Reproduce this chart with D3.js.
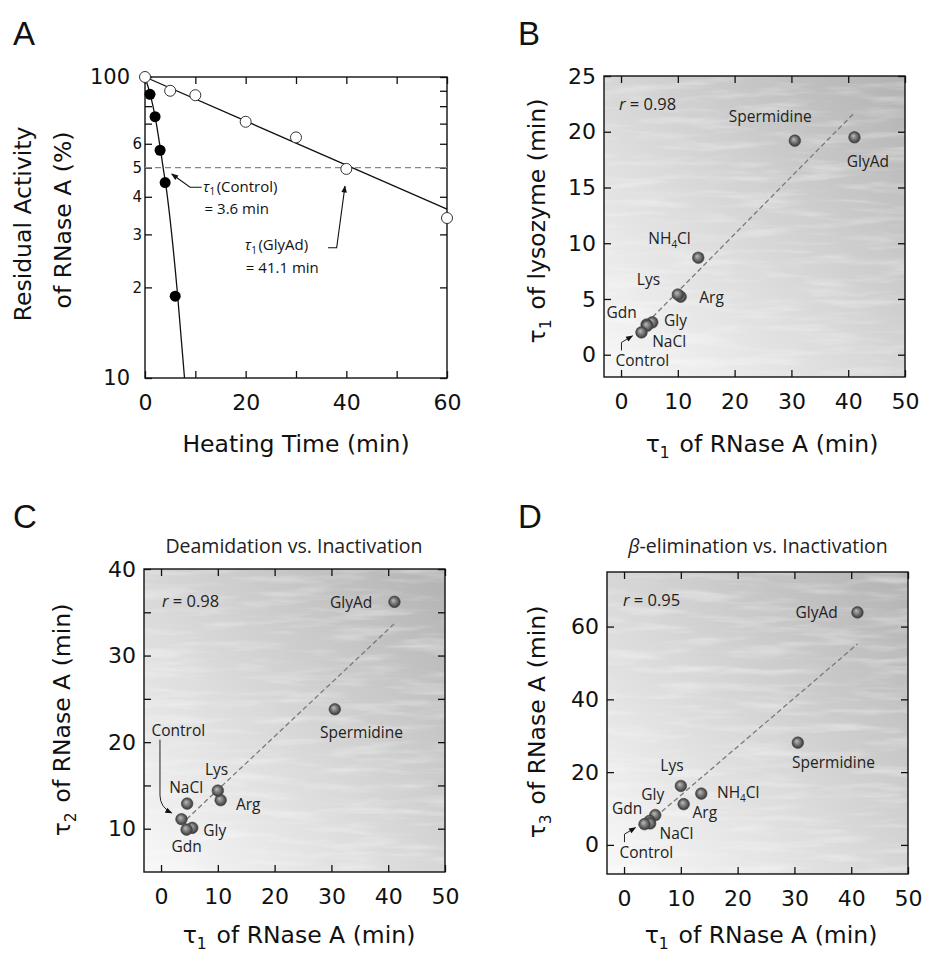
<!DOCTYPE html>
<html>
<head>
<meta charset="utf-8">
<script src="https://cdn.jsdelivr.net/npm/d3@7"></script>
<style>
  body { margin: 0; background: #fff; }
  svg { display: block; }
</style>
</head>
<body>
<script>
// ---- panel A: residual activity vs heating time ----
const heatTime = [0, 5, 10, 20, 30, 40, 60];
const glyAdActivity = [100, 90, 87, 71, 63, 49.5, 34];
const ctrlTime = [1, 2, 3, 4, 6];
const ctrlActivity = [87.6, 73.8, 57.1, 44.6, 18.7];
const glyAdFit = [[0, 100], [60, 36.4]];
const ctrlFit = [[0, 100], [1, 88], [2, 74], [3, 58.5], [3.6, 50], [4.2, 43], [6.4, 19.5], [7.85, 10]];
const tau1Control = 3.6;
const tau1GlyAd = 41.1;
const aXTicks = [0, 10, 20, 30, 40, 50, 60];
const aXLabels = ['0', '', '20', '', '40', '', '60'];
const aYTicks = [10, 20, 30, 40, 50, 60, 70, 80, 90, 100];
const aYLabels = ['10', '2', '3', '4', '5', '6', '', '', '', '100'];

// ---- panels B-D: time constants per additive ----
const conditions = ['Control', 'NaCl', 'Gdn', 'Gly', 'Lys', 'Arg', 'NH4Cl', 'Spermidine', 'GlyAd'];
const rnaseTau1 = [3.6, 4.6, 4.5, 5.5, 10.0, 10.5, 13.6, 30.6, 41.1];
const lysoTau1 = [2.0, 2.6, 2.7, 2.9, 5.4, 5.2, 8.7, 19.2, 19.5];
const rnaseTau2 = [11.1, 12.9, 9.9, 10.1, 14.4, 13.3, null, 23.8, 36.2];
const rnaseTau3 = [5.7, 5.9, 6.6, 8.2, 16.2, 11.2, 14.1, 28.1, 63.9];
const fitB = [[3.6, 2.36], [41.1, 21.7]];
const fitC = [[4.5, 11.1], [41.1, 33.7]];
const fitD = [[4.5, 6.3], [41.1, 55.2]];
const corrR = ['0.98', '0.98', '0.95'];
const scatXTicks = [0, 10, 20, 30, 40, 50];

const W = 925, H = 955;
const tickFont = 'DejaVu Sans, sans-serif';
const labFont = '"Open Sans", sans-serif';

const svg = d3.select('body').append('svg')
    .attr('width', W).attr('height', H)
    .attr('font-family', tickFont);

const defs = svg.append('defs');
let bg = defs.append('linearGradient').attr('id', 'bg')
    .attr('x1', 0).attr('y1', 1).attr('x2', 1).attr('y2', 0);
bg.append('stop').attr('offset', '0%').attr('stop-color', '#f8f8f8');
bg.append('stop').attr('offset', '45%').attr('stop-color', '#dadada');
bg.append('stop').attr('offset', '100%').attr('stop-color', '#b2b2b2');

let ball = defs.append('radialGradient').attr('id', 'ball')
    .attr('cx', '50%').attr('cy', '50%').attr('r', '50%')
    .attr('fx', '38%').attr('fy', '35%');
ball.append('stop').attr('offset', '0%').attr('stop-color', '#bdbdbd');
ball.append('stop').attr('offset', '55%').attr('stop-color', '#747474');
ball.append('stop').attr('offset', '100%').attr('stop-color', '#363636');

// streaky paper texture on the shaded plots (kept faint)
let tex = defs.append('filter').attr('id', 'tex')
    .attr('x', 0).attr('y', 0).attr('width', 1).attr('height', 1);
tex.append('feTurbulence').attr('type', 'fractalNoise')
    .attr('baseFrequency', '0.015 0.12').attr('numOctaves', 3).attr('seed', 7);
tex.append('feColorMatrix').attr('type', 'matrix')
    .attr('values', '0 0 0 0 1  0 0 0 0 1  0 0 0 0 1  0.9 0 0 0 -0.42');
tex.append('feComposite').attr('in2', 'SourceGraphic').attr('operator', 'in');

defs.append('marker').attr('id', 'arr')
    .attr('viewBox', '0 0 10 10').attr('refX', 9).attr('refY', 5)
    .attr('markerWidth', 8).attr('markerHeight', 7)
    .attr('markerUnits', 'userSpaceOnUse').attr('orient', 'auto')
    .append('path').attr('d', 'M0,1 L10,5 L0,9 Z').attr('fill', '#111');

// frame + inward ticks on all four sides
let axes = function(g, b, x, y, o) {
    let style = function(sel) {
        sel.select('.domain').remove();
        sel.selectAll('.tick line').attr('stroke', '#111').attr('stroke-width', 1.3);
        sel.selectAll('.tick text').attr('fill', '#111');
        sel.attr('font-size', 22).attr('font-family', tickFont);
    };
    g.append('g').attr('transform', 'translate(0,' + b.y1 + ')')
        .call(d3.axisBottom(x).tickValues(o.xTicks).tickSize(-7).tickPadding(16)
            .tickFormat((d, i) => o.xLabels ? o.xLabels[i] : d))
        .call(style);
    g.append('g').attr('transform', 'translate(0,' + b.y0 + ')')
        .call(d3.axisTop(x).tickValues(o.xTicks).tickSize(-7).tickFormat(''))
        .call(style);
    let la = g.append('g').attr('transform', 'translate(' + b.x0 + ',0)')
        .call(d3.axisLeft(y).tickValues(o.yTicks).tickSize(-7).tickPadding(8)
            .tickFormat((d, i) => o.yLabels ? o.yLabels[i] : d))
        .call(style);
    g.append('g').attr('transform', 'translate(' + b.x1 + ',0)')
        .call(d3.axisRight(y).tickValues(o.yTicks).tickSize(-7).tickFormat(''))
        .call(style);
    g.append('rect')
        .attr('x', b.x0).attr('y', b.y0)
        .attr('width', b.x1 - b.x0).attr('height', b.y1 - b.y0)
        .attr('fill', 'none').attr('stroke', '#111').attr('stroke-width', 1.4);
    return la;
};

// text with a lowered index, e.g. tau_1
let subText = function(t, parts, size) {
    parts.forEach(function(p) {
        if (p.sub) {
            t.append('tspan').text(p.sub).attr('font-size', size * 0.66).attr('dy', size * 0.24);
            t.append('tspan').text('\u200a').attr('dy', -size * 0.24);
        } else {
            let s = t.append('tspan').text(p.t);
            if (p.it) s.attr('font-style', 'italic');
        }
    });
    return t;
};

let letter = function(ch, x, y) {
    svg.append('text').attr('x', x).attr('y', y).text(ch)
        .attr('font-family', 'Liberation Sans, sans-serif').attr('font-size', 33).attr('fill', '#111');
};

// ================= A =================
const bA = { x0: 145, x1: 447, y0: 77, y1: 378 };
const xA = d3.scaleLinear().domain([0, 60]).range([bA.x0, bA.x1]);
const yA = d3.scaleLog().domain([10, 100]).range([bA.y1, bA.y0]);
let gA = svg.append('g');
gA.append('rect').attr('x', bA.x0).attr('y', bA.y0)
    .attr('width', bA.x1 - bA.x0).attr('height', bA.y1 - bA.y0).attr('fill', '#fff');
let yAx = axes(gA, bA, xA, yA, { xTicks: aXTicks, xLabels: aXLabels, yTicks: aYTicks, yLabels: aYLabels });
yAx.selectAll('.tick text')
    .attr('font-size', d => (d === 10 || d === 100) ? 21 : 15)
    .attr('x', d => (d === 10 || d === 100) ? -15 : -3);

gA.append('line')
    .attr('x1', xA(0)).attr('x2', xA(60)).attr('y1', yA(50)).attr('y2', yA(50))
    .attr('stroke', '#888').attr('stroke-width', 1.2).attr('stroke-dasharray', '6,4');

let lineA = d3.line().x(d => xA(d[0])).y(d => yA(d[1]));
gA.append('path').attr('d', lineA(glyAdFit))
    .attr('fill', 'none').attr('stroke', '#111').attr('stroke-width', 1.3);
gA.append('path').attr('d', lineA.curve(d3.curveMonotoneX)(ctrlFit))
    .attr('fill', 'none').attr('stroke', '#111').attr('stroke-width', 1.3);

gA.selectAll('.open').data(heatTime).join('circle')
    .attr('cx', d => xA(d)).attr('cy', (d, i) => yA(glyAdActivity[i])).attr('r', 5.5)
    .attr('fill', '#fff').attr('stroke', '#333').attr('stroke-width', 1);
gA.selectAll('.fill').data(ctrlTime).join('circle')
    .attr('cx', d => xA(d)).attr('cy', (d, i) => yA(ctrlActivity[i])).attr('r', 5.5)
    .attr('fill', '#000');

// tau annotations
const annSize = 15;
let cx0 = xA(tau1Control), cy0 = yA(50);
gA.append('path')
    .attr('d', d3.line()([[cx0 + 38.6, cy0 + 19.7], [cx0 + 26.9, cy0 + 19.7], [cx0 + 8.6, cy0 + 6.4]]))
    .attr('fill', 'none').attr('stroke', '#111').attr('stroke-width', 1.1).attr('marker-end', 'url(#arr)');
subText(gA.append('text').attr('x', cx0 + 40).attr('y', cy0 + 24)
    .attr('font-family', labFont).attr('font-size', annSize).attr('fill', '#111'),
    [{ t: '\u03c4', it: true }, { sub: '1' }, { t: '(Control)' }], annSize);
gA.append('text').attr('x', cx0 + 41.5).attr('y', cy0 + 46.5).text('= 3.6 min')
    .attr('font-family', labFont).attr('font-size', annSize).attr('fill', '#111');

let gx0 = xA(tau1GlyAd), gy0 = yA(50);
gA.append('path')
    .attr('d', d3.line()([[gx0 - 23.9, gy0 + 80.1], [gx0 - 15.2, gy0 + 80.1], [gx0 - 6.9, gy0 + 18.5]]))
    .attr('fill', 'none').attr('stroke', '#111').attr('stroke-width', 1.1).attr('marker-end', 'url(#arr)');
subText(gA.append('text').attr('x', gx0 - 107).attr('y', gy0 + 82.5)
    .attr('font-family', labFont).attr('font-size', annSize).attr('fill', '#111'),
    [{ t: '\u03c4', it: true }, { sub: '1' }, { t: '(GlyAd)' }], annSize);
gA.append('text').attr('x', gx0 - 106).attr('y', gy0 + 105).text('= 41.1 min')
    .attr('font-family', labFont).attr('font-size', annSize).attr('fill', '#111');

gA.append('text').attr('x', 296).attr('y', 452).attr('text-anchor', 'middle')
    .attr('font-size', 23.5).attr('fill', '#111').text('Heating Time (min)');
gA.append('text').attr('transform', 'translate(31,224) rotate(-90)').attr('text-anchor', 'middle')
    .attr('font-size', 23.5).attr('fill', '#111').text('Residual Activity');
gA.append('text').attr('transform', 'translate(71,220) rotate(-90)').attr('text-anchor', 'middle')
    .attr('font-size', 23.5).attr('fill', '#111').text('of RNase A (%)');
letter('A', 13, 45);

// ================= B, C, D =================
let scatter = function(cfg) {
    let b = cfg.box;
    let x = d3.scaleLinear().domain([-3, 50]).range([b.x0, b.x1]);
    let y = d3.scaleLinear().domain(cfg.yDomain).range([b.y1, b.y0]);
    let g = svg.append('g');
    g.append('rect').attr('x', b.x0).attr('y', b.y0)
        .attr('width', b.x1 - b.x0).attr('height', b.y1 - b.y0).attr('fill', 'url(#bg)');
    g.append('rect').attr('x', b.x0).attr('y', b.y0)
        .attr('width', b.x1 - b.x0).attr('height', b.y1 - b.y0)
        .attr('fill', '#000').attr('filter', 'url(#tex)');
    axes(g, b, x, y, { xTicks: scatXTicks, yTicks: cfg.yTicks, yLabels: cfg.yLabels });

    g.append('path').attr('d', d3.line().x(d => x(d[0])).y(d => y(d[1]))(cfg.fit))
        .attr('fill', 'none').attr('stroke', '#7a7a7a').attr('stroke-width', 1.3)
        .attr('stroke-dasharray', '5,3');

    let pts = conditions.map((c, i) => ({ c: c, x: rnaseTau1[i], y: cfg.yVals[i] }))
        .filter(d => d.y != null);
    let px = d => x(d.x), py = d => y(d.y);

    // arrow from the Control label to its point
    let ctl = pts[0];
    g.append('path').attr('transform', 'translate(' + px(ctl) + ',' + py(ctl) + ')')
        .attr('d', cfg.ctrlArrow)
        .attr('fill', 'none').attr('stroke', '#222').attr('stroke-width', 1).attr('marker-end', 'url(#arr)');

    g.selectAll('.ball').data(pts.slice().reverse()).join('circle')
        .attr('cx', px).attr('cy', py).attr('r', 5.8)
        .attr('fill', 'url(#ball)').attr('stroke', '#444').attr('stroke-width', 0.6);

    pts.forEach(function(d) {
        let o = cfg.labels[d.c];
        if (!o) return;
        let t = g.append('text').attr('x', px(d) + o[0]).attr('y', py(d) + o[1])
            .attr('font-family', labFont).attr('font-size', 15.5).attr('fill', '#222');
        if (d.c === 'NH4Cl') {
            t.append('tspan').text('NH');
            t.append('tspan').text('4').attr('font-size', 10).attr('dy', 4);
            t.append('tspan').text('Cl').attr('dy', -4);
        } else {
            t.text(d.c);
        }
    });

    let rt = g.append('text').attr('x', cfg.rPos[0]).attr('y', cfg.rPos[1])
        .attr('font-family', labFont).attr('font-size', 16.5).attr('fill', '#222');
    rt.append('tspan').text('r').attr('font-style', 'italic');
    rt.append('tspan').text(' = ' + cfg.r);

    if (cfg.title) {
        let tt = g.append('text').attr('x', cfg.title.x).attr('y', cfg.title.y)
            .attr('text-anchor', 'middle').attr('font-family', labFont)
            .attr('font-size', 19.5).attr('fill', '#222');
        cfg.title.parts.forEach(function(p) {
            let s = tt.append('tspan').text(p.t);
            if (p.it) s.attr('font-style', 'italic');
        });
    }

    subText(g.append('text').attr('x', cfg.xLab[0]).attr('y', cfg.xLab[1])
        .attr('text-anchor', 'middle').attr('font-size', 23.5).attr('fill', '#111'),
        [{ t: '\u03c4' }, { sub: '1' }, { t: ' of RNase A (min)' }], 23.5);
    subText(g.append('text')
        .attr('transform', 'translate(' + cfg.yLab[0] + ',' + cfg.yLab[1] + ') rotate(-90)')
        .attr('text-anchor', 'middle').attr('font-size', 23.5).attr('fill', '#111'),
        [{ t: '\u03c4' }, { sub: cfg.yLab[2] }, { t: cfg.yLab[3] }], 23.5);
    letter(cfg.letter[0], cfg.letter[1], cfg.letter[2]);
};

const smallArrow = 'M-20,18 L-20,10 L-9,3.5';

scatter({
    box: { x0: 604, x1: 905, y0: 76, y1: 377 },
    yDomain: [-2, 25], yTicks: [0, 5, 10, 15, 20, 25],
    yVals: lysoTau1, fit: fitB, r: corrR[0], rPos: [619, 110],
    ctrlArrow: smallArrow,
    labels: {
        Control: [-26, 33.3], NaCl: [5, 21.5], Gdn: [-40, -7], Gly: [11.7, 3.5],
        Lys: [-41, -9.2], Arg: [18.6, 6.6], NH4Cl: [-50, -13.7],
        Spermidine: [-66, -19], GlyAd: [-7.7, 29.4]
    },
    xLab: [762, 452], yLab: [545, 221, '1', ' of lysozyme (min)'],
    letter: ['B', 518, 45]
});

scatter({
    box: { x0: 144, x1: 445, y0: 569, y1: 872 },
    yDomain: [5, 40], yTicks: [10, 15, 20, 25, 30, 35, 40],
    yLabels: ['10', '', '20', '', '30', '', '40'],
    yVals: rnaseTau2, fit: fitC, r: corrR[1], rPos: [162, 607],
    ctrlArrow: 'M-21.5,-79.5 L-21.5,-24 Q-21.5,-12 -9.8,-6.2',
    labels: {
        Control: [-30, -82.8], NaCl: [-18, -10.6], Gdn: [-15, 22.8], Gly: [11, 7.9],
        Lys: [-12.8, -15.9], Arg: [15.3, 10.3],
        Spermidine: [-14.8, 28.8], GlyAd: [-64.4, 6.1]
    },
    title: { x: 294, y: 553, parts: [{ t: 'Deamidation vs. Inactivation' }] },
    xLab: [299, 943], yLab: [70, 720, '2', ' of RNase A (min)'],
    letter: ['C', 13, 528]
});

scatter({
    box: { x0: 607, x1: 908, y0: 572, y1: 874 },
    yDomain: [-8, 75], yTicks: [0, 20, 40, 60],
    yVals: rnaseTau3, fit: fitD, r: corrR[2], rPos: [623, 606],
    ctrlArrow: smallArrow,
    labels: {
        Control: [-25, 33.6], NaCl: [9.4, 15.9], Gdn: [-37.6, -6.5], Gly: [-14, -15],
        Lys: [-20.5, -15.2], Arg: [8.9, 14.2], NH4Cl: [15.7, 4.8],
        Spermidine: [-5.8, 25.8], GlyAd: [-62, 5.5]
    },
    title: { x: 758, y: 553, parts: [{ t: '\u03b2', it: true }, { t: '-elimination vs. Inactivation' }] },
    xLab: [761, 943], yLab: [545, 722, '3', ' of RNase A (min)'],
    letter: ['D', 518, 528]
});
</script>
</body>
</html>
